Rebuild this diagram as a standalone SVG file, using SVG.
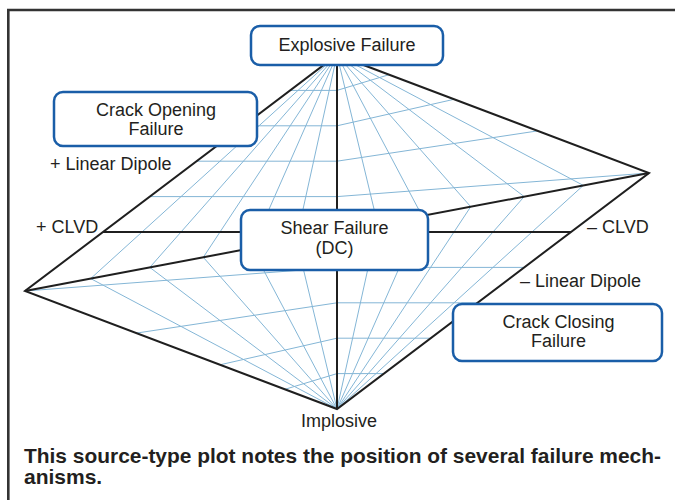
<svg xmlns="http://www.w3.org/2000/svg" width="675" height="500" viewBox="0 0 675 500">
<style>
.bg{fill:#fff}
.frame{fill:none;stroke:#333;stroke-width:2.6}
.grid{fill:none;stroke:#84b6d6;stroke-width:1}
.axis{fill:none;stroke:#1f1f1f;stroke-width:2;stroke-linejoin:miter}
.box{fill:#fff;stroke:#1a5ea8;stroke-width:2.5}
.lbl{font-family:"Liberation Sans",Arial,Helvetica,sans-serif;font-size:18px;fill:#231f20}
.mid{text-anchor:middle}
.cap{font-family:"Liberation Sans",Arial,Helvetica,sans-serif;font-size:21px;font-weight:bold;fill:#231f20}
</style>
<rect class="bg" x="0" y="0" width="675" height="500"/>
<path class="frame" d="M8.3,500 V10 H675"/>

<g id="grid">
<g class="grid">
<!-- constant k lines -->
<path d="M149.8,196.6H337M196.6,161.2H337M243.4,125.8H337M290.2,90.4H337"/>
<path d="M337,196.6L649,173M337,161.2L537.6,130.9M337,125.8L454,99.3M337,90.4L389,74.7"/>
<path d="M337,267.4H524.2M337,302.8H477.4M337,338.2H430.6M337,373.6H383.8"/>
<path d="M337,267.4L25,291M337,302.8L136.4,333.1M337,338.2L220,364.8M337,373.6L285,389.3"/>
<!-- constant T lines, T<0 -->
<polyline points="337,55 298,232 296.3,239.7 337,409"/>
<polyline points="337,55 259,232 251.91,248.09 337,409"/>
<polyline points="337,55 220,232 203.29,257.29 337,409"/>
<polyline points="337,55 181,232 149.8,267.4 337,409"/>
<polyline points="337,55 142,232 90.68,278.58 337,409"/>
<!-- constant T lines, T>0 -->
<polyline points="337,409 376,232 377.7,224.3 337,55"/>
<polyline points="337,409 415,232 422.09,215.91 337,55"/>
<polyline points="337,409 454,232 470.71,206.71 337,55"/>
<polyline points="337,409 493,232 524.2,196.6 337,55"/>
<polyline points="337,409 532,232 583.32,185.42 337,55"/>
</g>
</g>

<g id="connectors">
<path class="axis" d="M337,55 L649,173 L337,409 L25,291 Z"/>
<path class="axis" d="M337,55 V409"/>
<path class="axis" d="M103,232 H571"/>
<path class="axis" d="M25,291 L649,173"/>
</g>

<g id="explosive">
<rect class="box" x="251" y="26" width="192" height="39" rx="9"/>
<text class="lbl mid" x="347" y="51">Explosive Failure</text>
</g>
<g id="crack-opening">
<rect class="box" x="54" y="92" width="203" height="54" rx="9"/>
<text class="lbl mid" x="156" y="116">Crack Opening</text>
<text class="lbl mid" x="156" y="135">Failure</text>
</g>
<g id="shear">
<rect class="box" x="241" y="210" width="187" height="60" rx="9"/>
<text class="lbl mid" x="334.5" y="233.5">Shear Failure</text>
<text class="lbl mid" x="334.5" y="254">(DC)</text>
</g>
<g id="crack-closing">
<rect class="box" x="453" y="304" width="209" height="57" rx="9"/>
<text class="lbl mid" x="558.5" y="327.5">Crack Closing</text>
<text class="lbl mid" x="558.5" y="346.5">Failure</text>
</g>
<g id="plus-linear-dipole"><text class="lbl" x="50" y="170">+ Linear Dipole</text></g>
<g id="plus-clvd"><text class="lbl" x="36" y="233">+ CLVD</text></g>
<g id="minus-clvd"><text class="lbl" x="587" y="233">– CLVD</text></g>
<g id="minus-linear-dipole"><text class="lbl" x="520" y="287">– Linear Dipole</text></g>
<g id="implosive"><text class="lbl mid" x="339" y="427">Implosive</text></g>

<g id="caption">
<text class="cap" x="24" y="463" textLength="637" lengthAdjust="spacingAndGlyphs">This source-type plot notes the position of several failure mech-</text>
<text class="cap" x="24" y="484">anisms.</text>
</g>
</svg>
